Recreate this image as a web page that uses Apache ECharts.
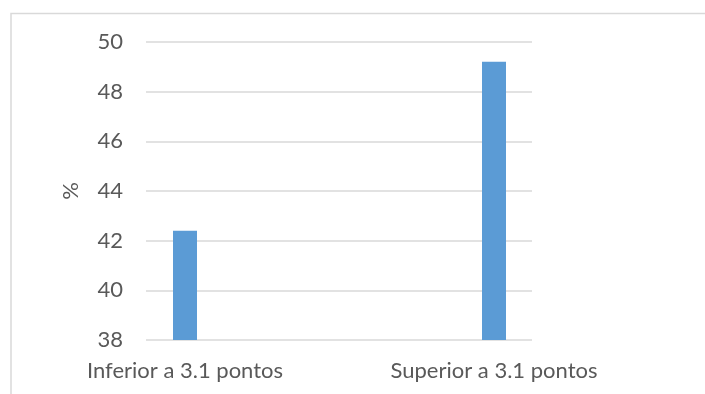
<!DOCTYPE html>
<html>
<head>
<meta charset="utf-8">
<script src="https://cdn.jsdelivr.net/npm/echarts@6/dist/echarts.min.js"></script>
<style>
  html, body { margin: 0; padding: 0; background: #ffffff; }
  #chart { width: 705px; height: 394px; }
</style>
</head>
<body>
<div id="chart"></div>
<script>
// Categories and values
const categories = ['Inferior a 3.1 pontos', 'Superior a 3.1 pontos'];
const values = [42.4, 49.2];
const yMin = 38;
const yMax = 50;
const yStep = 2;
const yName = '%';

const textColor = '#595959';
const gridColor = '#d9d9d9';
const barColor = '#5b9bd5';
const fontFamily = 'Lato, "Open Sans", sans-serif';

const chart = echarts.init(document.getElementById('chart'), null, { renderer: 'canvas' });

chart.setOption({
  animation: false,
  backgroundColor: '#ffffff',
  graphic: [{
    type: 'rect',
    silent: true,
    shape: { x: 11, y: 13.5, width: 900, height: 600 },
    style: { fill: 'none', stroke: gridColor, lineWidth: 1.5 }
  }],
  grid: [
    // value grid: gridlines and y labels
    { left: 146, right: 173, top: 42, bottom: 54, containLabel: false },
    // category grid: bars and category labels
    { left: 30.5, right: 56.5, top: 42, bottom: 54, containLabel: false }
  ],
  xAxis: [
    { gridIndex: 0, type: 'category', data: categories, show: false },
    {
      gridIndex: 1,
      type: 'category',
      data: categories,
      axisLine: { show: false },
      axisTick: { show: false },
      axisLabel: { color: textColor, fontFamily: fontFamily, fontSize: 22, margin: 20 }
    }
  ],
  yAxis: [
    {
      gridIndex: 0,
      type: 'value',
      min: yMin,
      max: yMax,
      interval: yStep,
      name: yName,
      nameLocation: 'middle',
      nameRotate: 90,
      nameGap: 64,
      nameTextStyle: { color: textColor, fontFamily: fontFamily, fontSize: 22 },
      axisLine: { show: false },
      axisTick: { show: false },
      axisLabel: { color: textColor, fontFamily: fontFamily, fontSize: 22, margin: 23 },
      splitLine: { show: true, lineStyle: { color: gridColor, width: 1.5 } }
    },
    {
      gridIndex: 1,
      type: 'value',
      min: yMin,
      max: yMax,
      interval: yStep,
      show: false,
      splitLine: { show: false }
    }
  ],
  series: [{
    type: 'bar',
    xAxisIndex: 1,
    yAxisIndex: 1,
    data: values,
    barWidth: 24,
    itemStyle: { color: barColor }
  }]
});
</script>
</body>
</html>
